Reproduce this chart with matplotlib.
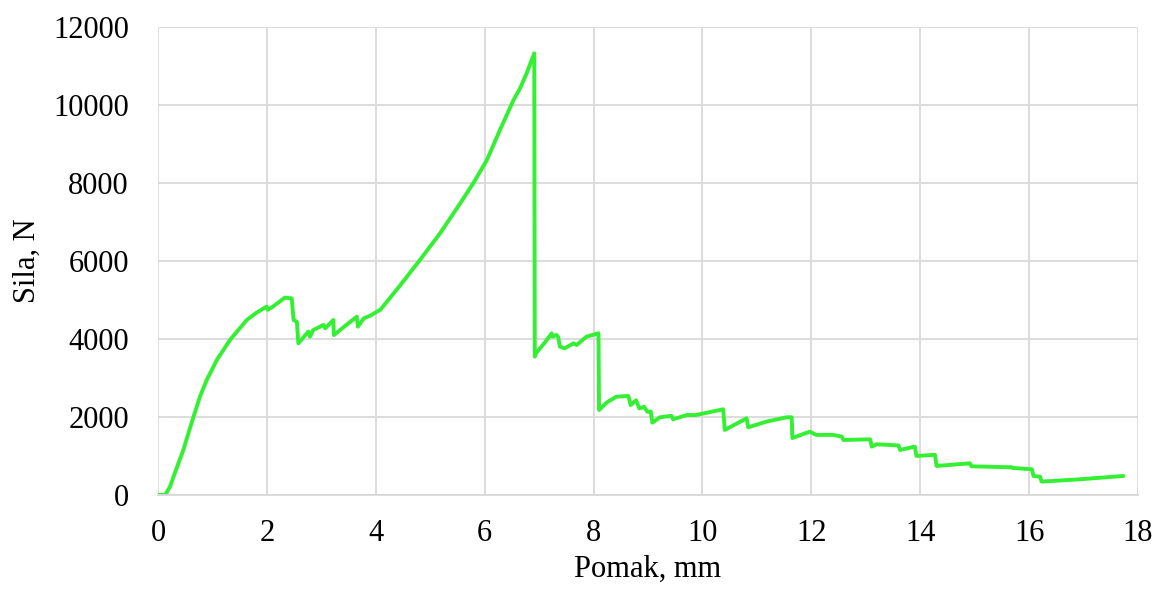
import matplotlib.pyplot as plt

# Force-displacement record (displacement in mm, force in N)
pomak = [0.0, 0.13, 0.22, 0.34, 0.465, 0.557, 0.65, 0.77, 0.894, 1.08, 1.32, 1.63, 1.81,
         1.996, 2.02, 2.1, 2.33, 2.455, 2.49, 2.55, 2.577, 2.76, 2.79, 2.85, 3.04, 3.07,
         3.22, 3.23, 3.45, 3.65, 3.67, 3.78, 3.9, 4.02, 4.08, 4.45, 4.81, 5.18, 5.55,
         5.79, 6.04, 6.28, 6.53, 6.65, 6.77, 6.91, 6.92, 6.95, 7.1, 7.23, 7.25, 7.32,
         7.35, 7.38, 7.47, 7.63, 7.69, 7.87, 8.09, 8.10, 8.25, 8.42, 8.64, 8.68, 8.78,
         8.84, 8.93, 8.99, 9.05, 9.08, 9.22, 9.43, 9.46, 9.71, 9.88, 10.38, 10.41,
         10.81, 10.84, 11.17, 11.55, 11.64, 11.65, 11.97, 12.09, 12.4, 12.56, 12.59,
         13.08, 13.11, 13.2, 13.6, 13.63, 13.9, 13.93, 14.27, 14.3, 14.91, 14.94,
         15.68, 15.7, 16.05, 16.08, 16.2, 16.23, 16.93, 17.73]
sila = [0, 0, 213, 684, 1154, 1581, 2000, 2521, 2949, 3462, 3974, 4487, 4675,
        4830, 4750, 4820, 5060, 5040, 4487, 4440, 3889, 4188, 4060, 4230, 4359, 4273,
        4487, 4100, 4350, 4572, 4316, 4530, 4600, 4700, 4744, 5380, 6026, 6710, 7479,
        7992, 8590, 9359, 10128, 10428, 10813, 11325, 3547, 3650, 3900, 4145, 4060,
        4103, 4050, 3803, 3760, 3889, 3846, 4060, 4145, 2179, 2380, 2521, 2538, 2303,
        2430, 2220, 2260, 2130, 2140, 1855, 1992, 2030, 1940, 2050, 2050, 2197, 1667,
        1966, 1735, 1880, 1992, 1992, 1460, 1624, 1540, 1540, 1496, 1410, 1427, 1240,
        1300, 1270, 1154, 1240, 1000, 1030, 744, 812, 735, 710, 692, 660, 487, 470,
        342, 402, 487]

x_ticks = list(range(0, 19, 2))
y_ticks = list(range(0, 12001, 2000))

plt.rcParams['font.family'] = ['Liberation Serif', 'DejaVu Serif']

fig = plt.figure(figsize=(11.57, 5.92), dpi=100)
ax = fig.add_axes([0.1366, 0.1639, 0.847, 0.7905])

ax.plot(pomak, sila, color='#33f033', linewidth=2.8,
        solid_joinstyle='round', solid_capstyle='round')

ax.set_xlim(0, 18)
ax.set_ylim(0, 12000)
ax.set_xticks(x_ticks)
ax.set_yticks(y_ticks)
ax.grid(True, color='#d9d9d9', linewidth=1.3)
ax.set_axisbelow(True)
for side in ['top', 'right', 'left']:
    ax.spines[side].set_visible(False)
ax.spines['bottom'].set_color('#d9d9d9')
ax.spines['bottom'].set_linewidth(1.3)
ax.tick_params(length=0, labelsize=22)
ax.tick_params(axis='x', pad=17)
ax.tick_params(axis='y', pad=21)

ax.set_xlabel('Pomak, mm', fontsize=22, labelpad=5)
ax.set_ylabel('Sila, N', fontsize=22, labelpad=8)

fig.savefig('out.png', dpi=100)
